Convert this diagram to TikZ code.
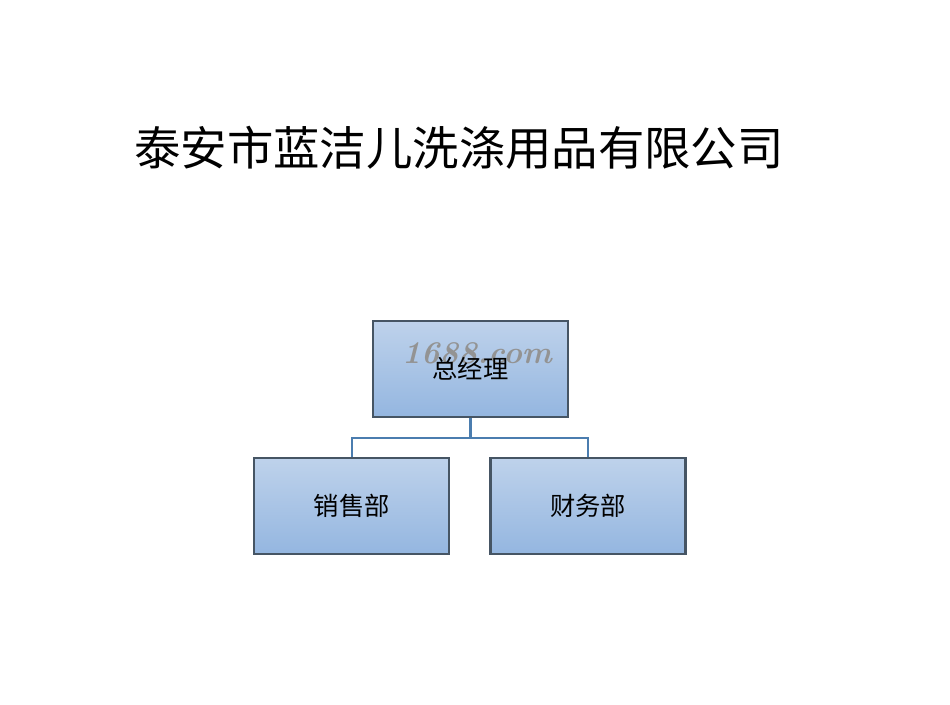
\documentclass[tikz,border=0pt]{standalone}
\usepackage{fontspec}
\usepackage{tikz}
\usetikzlibrary{positioning, calc, shadows}
\newfontfamily\cjk{Noto Sans CJK SC}
\definecolor{orgedge}{RGB}{70, 85, 100}
\definecolor{orgtop}{RGB}{190, 210, 235}
\definecolor{orgbot}{RGB}{148, 182, 224}
\definecolor{orgline}{RGB}{75, 125, 175}

\tikzset{
    orgbox/.style={draw=orgedge, line width=0.6pt, top color=orgtop, bottom color=orgbot,
        minimum width=1.95cm, minimum height=0.96cm, inner sep=0pt,
        font=\cjk\fontsize{7.2}{8}\selectfont},
    orglink/.style={draw=orgline, line width=0.7pt}
}

\begin{document}
\begin{tikzpicture}
        \useasboundingbox (0,0) rectangle (9.5,7.05);
        % title
        \node (title) at (4.59,5.57) {\cjk\fontsize{13.2}{14}\selectfont 泰安市蓝洁儿洗涤用品有限公司};
        % chart
        \node[orgbox] (boss) at (4.705,3.36) {};
        \node[orgbox, below left=0.39cm and -0.785cm of boss] (sales) {销售部};
        \node[orgbox, right=0.39cm of sales] (finance) {财务部};
        \node[font=\fontsize{9}{9}\selectfont\bfseries\itshape, text=gray!85] (mark) at (4.77,3.52) {1688.com};
        \node[font=\cjk\fontsize{7.2}{8}\selectfont] (bosslabel) at (boss.center) {总经理};
        \coordinate (fork) at ($(boss.south)+(0,-0.2)$);
        \draw[orglink] (boss.south) -- (fork);
        \draw[orglink] (fork) -| (sales.north);
        \draw[orglink] (fork) -| (finance.north);
    \end{tikzpicture}
\end{document}
